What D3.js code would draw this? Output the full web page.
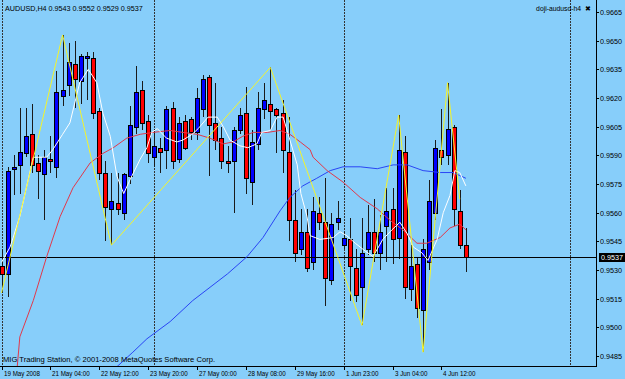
<!DOCTYPE html>
<meta charset="utf-8">
<style>
  body { margin: 0; background: #87cefa; }
  svg { font-family: "Liberation Sans", Arial, sans-serif; font-size: 8px; }
  .wick { stroke: #1a1a1a; shape-rendering: crispEdges; }
  .body { stroke: #000; shape-rendering: crispEdges; }
  .sep { stroke: #333; stroke-dasharray: 2,1; shape-rendering: crispEdges; }
  .frame { stroke: #000; shape-rendering: crispEdges; }
  .ma { fill: none; stroke-width: 1; }
</style>
<body>
<script src="https://d3js.org/d3.v7.min.js"></script>
<script>

// AUDUSD H4 bars, 19 May 2008 20:00 .. 5 Jun 2008 04:00
var barOpen = [
  .9532,.9528,.9583,.9585,.9591,.9601,.9586,.9580,.9588,.9584,
  .9621,.9627,.9638,.9629,.9641,.9641,.9613,.9581,.9562,.9565,
  .9560,.9579,.9605,.9624,.9608,.9589,.9594,.9593,.9615,.9588,
  .9608,.9609,.9602,.9614,.9631,.9607,.9599,.9587,.9587,.9603,
  .9612,.9576,.9596,.9614,.9617,.9614,.9612,.9592,.9556,.9541,
  .9550,.9534,.9560,.9555,.9525,.9555,.9543,.9546,.9531,.9521,
  .9541,.9550,.9539,.9553,.9562,.9547,.9592,.9520,.9533,.9509,
  .9534,.9560,.9593,.9590,.9605,.9561,.9543];
var barHigh = [
  .9541,.9584,.9590,.9615,.9615,.9617,.9590,.9593,.9600,.9634,
  .9653,.9649,.9650,.9643,.9644,.9644,.9615,.9587,.9581,.9581,
  .9581,.9616,.9637,.9629,.9611,.9604,.9599,.9616,.9618,.9610,
  .9611,.9610,.9625,.9632,.9632,.9628,.9605,.9595,.9605,.9615,
  .9626,.9603,.9623,.9628,.9636,.9615,.9619,.9610,.9572,.9562,
  .9562,.9568,.9568,.9578,.9560,.9566,.9550,.9557,.9541,.9557,
  .9564,.9567,.9559,.9573,.9573,.9611,.9600,.9543,.9537,.9546,
  .9577,.9598,.9614,.9628,.9606,.9572,.9552];
var barLow = [
  .9518,.9516,.9569,.9570,.9589,.9581,.9567,.9556,.9581,.9578,
  .9616,.9621,.9615,.9617,.9619,.9609,.9577,.9545,.9543,.9559,
  .9556,.9575,.9601,.9603,.9586,.9584,.9581,.9583,.9583,.9586,
  .9593,.9598,.9598,.9610,.9579,.9593,.9583,.9581,.9560,.9601,
  .9570,.9564,.9593,.9609,.9603,.9591,.9581,.9545,.9534,.9538,
  .9529,.9530,.9551,.9511,.9522,.9551,.9541,.9514,.9513,.9501,
  .9538,.9534,.9530,.9534,.9533,.9536,.9515,.9514,.9505,.9487,
  .9530,.9556,.9585,.9585,.9553,.9541,.9529];
var barClose = [
  .9528,.9582,.9584,.9592,.9600,.9585,.9582,.9589,.9587,.9623,
  .9624,.9639,.9630,.9642,.9642,.9612,.9581,.9563,.9566,.9562,
  .9580,.9606,.9623,.9607,.9591,.9595,.9592,.9614,.9587,.9607,
  .9594,.9602,.9620,.9630,.9606,.9598,.9587,.9586,.9603,.9611,
  .9578,.9597,.9615,.9619,.9613,.9611,.9593,.9556,.9539,.9550,
  .9531,.9561,.9555,.9526,.9554,.9557,.9547,.9532,.9517,.9539,
  .9550,.9539,.9550,.9561,.9546,.9593,.9521,.9532,.9510,.9541,
  .9566,.9594,.9589,.9604,.9562,.9543,.9537];

// indicator lines: [bar, price]
var maWhite = [[0,.9534],[1.4,.9542],[3,.9558],[5.2,.9589],[7.4,.9589],[8.4,.9593],[10,.9601],
  [11.2,.9607],[12.8,.9628],[14.2,.9635],[15.6,.9628],[16.6,.9612],[17.8,.9600],[18.9,.9579],
  [20,.9570],[21,.9577],[22.7,.9588],[23.8,.9594],[24.6,.9602],[25.5,.9604],[27,.9599],
  [28.7,.9597],[29.7,.9598],[31.2,.9601],[32.2,.9604],[33.8,.9610],[35.3,.9610],[36.3,.9605],
  [37.4,.9598],[39,.9595],[40.3,.9594],[41.8,.9596],[42.6,.9602],[44,.9603],[45.1,.9610],
  [46.1,.9610],[47.2,.9598],[48.4,.9585],[49,.9570],[50,.9558],[50.5,.9548],[52.1,.9546],
  [54.3,.9547],[55.4,.9550],[56.5,.9548],[57.9,.9544],[59.5,.9540],[60.8,.9537],[62.4,.9546],
  [63.9,.9551],[65.2,.9555],[66.4,.9549],[67.4,.9542],[68.8,.9539],[69.8,.9535],[71.3,.9546],
  [72.3,.9560],[73.4,.9569],[74.2,.9582],[75,.9581],[76,.9574]];
var maRed = [[2.4,.9473],[3,.9495],[5.2,.9514],[7.4,.9537],[9.6,.9558],[11.7,.9573],[14.5,.9586],
  [16.6,.9591],[18.3,.9594],[20.5,.9599],[22.7,.9601],[24.8,.9602],[27.6,.9603],[29.7,.9602],
  [32,.9601],[34.1,.9599],[36.3,.9596],[37.9,.9597],[39.5,.9600],[41.2,.9602],[43.5,.9602],
  [45.6,.9603],[47.2,.9601],[48.9,.9597],[50.5,.9593],[51,.9589],[53.3,.9582],[55.9,.9576],
  [58.7,.9568],[61.5,.9562],[63.6,.9556],[65.7,.9551],[68,.9544],[69.6,.9544],[71.8,.9547],
  [73.4,.9552],[75,.9554],[76,.9551]];
var maBlue = [[17.1,.9474],[19.1,.9480],[21.5,.9487],[23.8,.9494],[27.6,.9503],[31.3,.9514],
  [37,.9528],[40.2,.9537],[42.8,.9547],[45.6,.9561],[47.2,.9568],[49.3,.9574],[51.6,.9578],
  [53.8,.9582],[55.9,.9584],[58.7,.9584],[61.5,.9583],[64.1,.9585],[66.4,.9585],[69,.9582],
  [71.8,.9581],[73.9,.9581],[76,.9578]];
var zigzag = [[0,.9518],[10,.9653],[18,.9543],[44,.9636],[59,.9501],[65,.9611],[69,.9487],[73,.9628],[75,.9567]];

var priceTicks = [.9665,.9650,.9635,.9620,.9605,.9590,.9575,.9560,.9545,.9530,.9515,.9500,.9485];
var timeLabels = ["19 May 2008","21 May 04:00","22 May 12:00","23 May 20:00","27 May 00:00",
  "28 May 08:00","29 May 16:00","1 Jun 23:00","3 Jun 04:00","4 Jun 12:00"];
var timeLabelBars = [0,8,16,24,32,40,48,56,64,72];
var separatorBars = [0,25,56,93];
var lastPrice = .9537;

var W = 625, H = 379, plotRight = 596, plotBottom = 366;

var x = d3.scaleLinear().domain([0, 76]).range([1.5, 1.5 + 6.11 * 76]);
var y = d3.scaleLinear().domain([.9665, .9485]).range([12, 356]);

var svg = d3.select("body").append("svg")
    .attr("width", W).attr("height", H);

svg.append("rect").attr("width", W).attr("height", H).attr("fill", "#87cefa");

svg.append("clipPath").attr("id", "plot")
  .append("rect").attr("x", 0).attr("y", 0).attr("width", plotRight).attr("height", plotBottom);

var plot = svg.append("g").attr("clip-path", "url(#plot)");

// narrow text like the terminal font
function label(g, tx, ty, s, sx) {
  return g.append("text")
      .attr("transform", "translate(" + tx + "," + ty + ") scale(" + sx + ",1)")
      .text(s);
}

// period separators
plot.selectAll(".sep").data(separatorBars).enter().append("line")
    .attr("class", "sep")
    .attr("x1", d => Math.round(x(d)) + 0.5).attr("x2", d => Math.round(x(d)) + 0.5)
    .attr("y1", 0).attr("y2", plotBottom);

// candles
var bars = d3.range(barOpen.length);
var candle = plot.selectAll(".candle").data(bars).enter().append("g").attr("class", "candle");
candle.append("line").attr("class", "wick")
    .attr("x1", i => Math.round(x(i)) + 0.5).attr("x2", i => Math.round(x(i)) + 0.5)
    .attr("y1", i => Math.round(y(barHigh[i]))).attr("y2", i => Math.round(y(barLow[i])));
candle.append("rect").attr("class", "body")
    .attr("x", i => Math.round(x(i)) - 1.5)
    .attr("width", 4)
    .attr("y", i => Math.round(y(Math.max(barOpen[i], barClose[i]))) + 0.5)
    .attr("height", i => Math.max(1, Math.round(y(Math.min(barOpen[i], barClose[i]))) - Math.round(y(Math.max(barOpen[i], barClose[i])))))
    .attr("fill", i => barClose[i] >= barOpen[i] ? "#0000ff" : "#ff0000");

// price line
plot.append("line").attr("class", "frame")
    .attr("x1", 0).attr("x2", plotRight)
    .attr("y1", Math.round(y(lastPrice)) + 0.5).attr("y2", Math.round(y(lastPrice)) + 0.5)
    .attr("stroke", "#111");

var line = d3.line().x(d => x(d[0])).y(d => y(d[1]));
plot.append("path").attr("class", "ma").attr("d", line(maBlue)).attr("stroke", "#2a45f5");
plot.append("path").attr("class", "ma").attr("d", line(maRed)).attr("stroke", "#e2384a");
plot.append("path").attr("class", "ma").attr("d", line(maWhite)).attr("stroke", "#ffffff");
plot.append("path").attr("class", "ma").attr("d", line(zigzag)).attr("stroke", "#f4f42a");

// frame
svg.append("line").attr("class", "frame").attr("x1", plotRight + 0.5).attr("x2", plotRight + 0.5)
    .attr("y1", 0).attr("y2", plotBottom + 1);
svg.append("line").attr("class", "frame").attr("x1", 0).attr("x2", plotRight + 1)
    .attr("y1", plotBottom + 0.5).attr("y2", plotBottom + 0.5);

// price scale
var yAxis = svg.append("g");
yAxis.selectAll("line").data(priceTicks).enter().append("line").attr("class", "frame")
    .attr("x1", plotRight).attr("x2", plotRight + 3)
    .attr("y1", d => Math.round(y(d)) + 0.5).attr("y2", d => Math.round(y(d)) + 0.5);
priceTicks.forEach(d => label(yAxis, plotRight + 4, y(d) + 3, d.toFixed(4), 0.9));

var lp = svg.append("g");
lp.append("rect").attr("x", plotRight + 3).attr("y", Math.round(y(lastPrice)) - 4)
    .attr("width", 26).attr("height", 9).attr("fill", "#000");
label(lp, plotRight + 5, y(lastPrice) + 3, lastPrice.toFixed(4), 0.9).attr("fill", "#fff");

// time scale
var xAxis = svg.append("g");
xAxis.selectAll("line").data(timeLabelBars).enter().append("line").attr("class", "frame")
    .attr("x1", d => Math.round(x(d)) + 0.5).attr("x2", d => Math.round(x(d)) + 0.5)
    .attr("y1", plotBottom).attr("y2", plotBottom + 4);
timeLabels.forEach((d, i) => label(xAxis, Math.round(x(timeLabelBars[i])) + 2, 376, d, 0.78));

// captions
label(svg, 5, 11, "AUDUSD,H4  0.9543 0.9552 0.9529 0.9537", 0.9);
label(svg, 581, 11, "doji-audusd-h4", 0.85).attr("text-anchor", "end");
svg.append("text").attr("x", 585).attr("y", 11).attr("font-size", "7px").text("\u2716");
label(svg, 3, 362, "MIG Trading Station, \u00a9 2001-2008 MetaQuotes Software Corp.", 0.95);

</script>
